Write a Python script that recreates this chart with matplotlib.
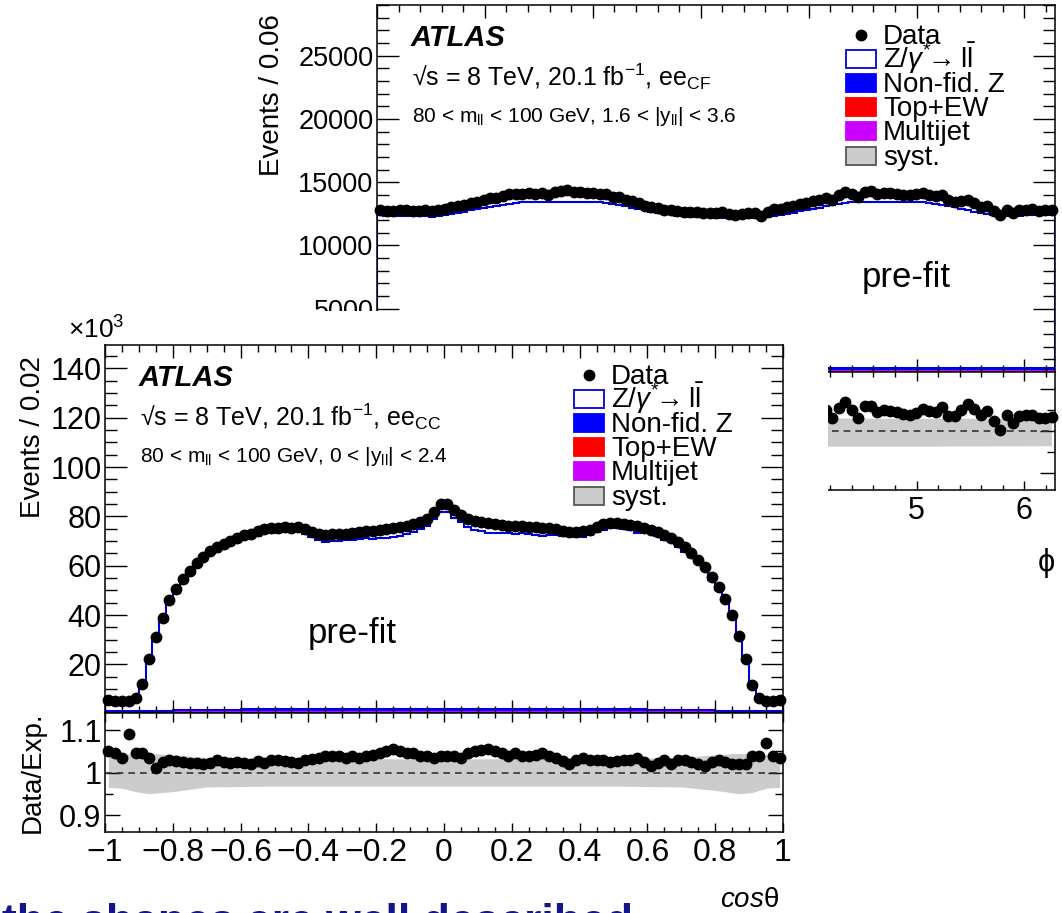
import numpy as np
import matplotlib
matplotlib.use("Agg")
import matplotlib.pyplot as plt
from matplotlib.patches import Rectangle
from matplotlib.ticker import MultipleLocator, FixedLocator, FuncFormatter

plt.rcParams['font.family'] = ['Liberation Sans', 'DejaVu Sans']
plt.rcParams['mathtext.fontset'] = 'custom'
plt.rcParams['mathtext.rm'] = 'Liberation Sans'
plt.rcParams['mathtext.it'] = 'Liberation Sans:italic'
plt.rcParams['mathtext.bf'] = 'Liberation Sans:bold'
plt.rcParams['axes.linewidth'] = 1.1

# ---------------- front plot: cos(theta), ee_CC, 100 bins of 0.02 (x10^3 events)
cos_data = [5.6, 5.0, 5.0, 5.3, 6.3, 12.0, 22.0, 31.0, 39.0, 46.0,
            50.5, 54.5, 58.0, 61.0, 63.5, 66.0, 67.5, 69.0, 70.0, 71.2,
            72.3, 73.0, 74.0, 74.8, 75.3, 75.5, 75.8, 75.5, 75.6, 75.0,
            73.8, 73.0, 72.6, 72.8, 73.0, 73.0, 73.4, 73.5, 73.9, 74.0,
            74.3, 74.8, 75.4, 75.8, 76.3, 77.0, 77.8, 79.0, 81.6, 85.0,
            85.0, 82.5, 80.4, 79.0, 78.3, 77.8, 77.2, 76.8, 76.6, 76.3,
            76.2, 76.0, 75.8, 75.6, 75.5, 75.2, 74.8, 74.0, 73.6, 73.8,
            74.0, 74.5, 75.8, 76.8, 77.2, 77.3, 77.0, 76.6, 76.0, 75.5,
            74.6, 73.6, 72.6, 71.2, 69.6, 67.6, 65.2, 62.3, 59.3, 55.5,
            51.5, 46.5, 40.0, 31.5, 22.0, 11.8, 6.5, 5.0, 5.0, 5.6]
cos_ratio = [1.050, 1.045, 1.035, 1.090, 1.045, 1.045, 1.035, 1.010, 1.025, 1.030,
             1.028, 1.025, 1.022, 1.022, 1.020, 1.022, 1.030, 1.025, 1.022, 1.025,
             1.022, 1.020, 1.028, 1.022, 1.030, 1.030, 1.028, 1.025, 1.022, 1.030,
             1.032, 1.035, 1.040, 1.038, 1.040, 1.035, 1.040, 1.035, 1.040, 1.042,
             1.045, 1.050, 1.055, 1.050, 1.045, 1.045, 1.040, 1.040, 1.035, 1.038,
             1.040, 1.040, 1.035, 1.045, 1.050, 1.052, 1.055, 1.050, 1.045, 1.040,
             1.045, 1.040, 1.040, 1.042, 1.045, 1.040, 1.035, 1.028, 1.020, 1.030,
             1.035, 1.030, 1.030, 1.030, 1.025, 1.028, 1.030, 1.030, 1.035, 1.025,
             1.015, 1.022, 1.030, 1.020, 1.030, 1.030, 1.025, 1.020, 1.015, 1.025,
             1.030, 1.025, 1.020, 1.020, 1.020, 1.040, 1.040, 1.070, 1.040, 1.035]
# small backgrounds, one value per group of 10 bins (x10^3)
cos_topew = [0.3, 0.4, 0.4, 0.4, 0.4, 0.4, 0.4, 0.4, 0.4, 0.3]
cos_multijet = [0.7, 0.9, 0.9, 0.9, 0.9, 0.9, 0.9, 0.9, 0.9, 0.7]
cos_nonfid = [0.2, 0.4, 0.5, 0.6, 0.6, 0.6, 0.6, 0.5, 0.4, 0.2]
cos_syst_x = [-0.99, -0.95, -0.91, -0.87, -0.80, -0.70, -0.50, 0.0, 0.50, 0.70, 0.80, 0.87, 0.91, 0.95, 0.99]
cos_syst_lo = [0.965, 0.963, 0.955, 0.950, 0.955, 0.966, 0.968, 0.968, 0.968, 0.966, 0.958, 0.950, 0.953, 0.963, 0.965]
cos_syst_hi = [1.040, 1.042, 1.045, 1.045, 1.042, 1.035, 1.033, 1.032, 1.033, 1.035, 1.042, 1.045, 1.045, 1.042, 1.040]

# ---------------- back plot: phi, ee_CF, 105 bins over [0, 2pi]
phi_pred = [12380, 12360, 12350, 12300, 12290, 12320, 12330, 12300, 12280,
            12350, 12420, 12500, 12590, 12680, 12770, 12860, 12950, 13040, 13130, 13220, 13300,
            13360, 13400, 13430, 13450, 13460, 13460, 13450, 13440, 13430, 13440, 13450, 13460, 13440, 13400, 13340,
            13260, 13170, 13080, 12980, 12870, 12770, 12670, 12580, 12510, 12450,
            12350, 12310, 12280, 12250, 12230, 12210, 12200, 12190, 12180, 12180, 12180, 12190, 12200, 12220, 12260,
            12350, 12420, 12500, 12590, 12690, 12790, 12890, 12990, 13090, 13190, 13280,
            13350, 13400, 13430, 13450, 13460, 13470, 13470, 13460, 13450, 13450, 13460, 13450, 13420, 13370, 13300,
            13210, 13110, 13000, 12890, 12780, 12680, 12580, 12490, 12420, 12380,
            12360, 12350, 12360, 12370, 12380, 12370, 12380, 12380]
phi_ratio = [1.035, 1.030, 1.032, 1.038, 1.040, 1.030, 1.035, 1.040, 1.035,
             1.035, 1.038, 1.040, 1.045, 1.042, 1.048, 1.045, 1.050, 1.052, 1.048, 1.050, 1.055,
             1.050, 1.048, 1.052, 1.045, 1.050, 1.038, 1.055, 1.062, 1.068, 1.060, 1.058, 1.050, 1.055, 1.048, 1.052,
             1.045, 1.050, 1.040, 1.038, 1.035, 1.030, 1.028, 1.030, 1.025, 1.028,
             1.030, 1.025, 1.028, 1.032, 1.025, 1.030, 1.028, 1.035, 1.022, 1.020, 1.028, 1.028, 1.030, 1.010, 1.032,
             1.040, 1.035, 1.042, 1.040, 1.045, 1.042, 1.048, 1.045, 1.050,
             1.030, 1.055, 1.068, 1.050, 1.030, 1.060, 1.060, 1.045, 1.050, 1.048, 1.045, 1.040,
             1.038, 1.043, 1.052, 1.048, 1.045, 1.057, 1.036, 1.036, 1.050, 1.064, 1.052, 1.038,
             1.048, 1.024, 1.002, 1.038, 1.019, 1.036, 1.038, 1.038, 1.030, 1.031, 1.033]
# small backgrounds, one value per group of 15 bins (events)
phi_topew = [40, 40, 40, 40, 40, 40, 40]
phi_multijet = [120, 120, 120, 120, 120, 120, 120]
phi_nonfid = [180, 180, 170, 170, 170, 180, 180]
phi_syst_x = [0.03, 1.0, 2.0, 3.0, 4.0, 5.0, 6.25]
phi_syst_lo = [0.965, 0.965, 0.964, 0.965, 0.964, 0.964, 0.965]
phi_syst_hi = [1.031, 1.031, 1.030, 1.031, 1.031, 1.030, 1.031]

Z_BLUE = '#0000dd'
NONFID = '#0000ff'
TOPEW = '#ff0000'
MULTIJET = '#cc00ff'
SYST = '#cccccc'

W, H = 1062, 913
fig = plt.figure(figsize=(W / 100, H / 100), dpi=100)


def fbox(l, t, r, b):
    return [l / W, 1 - b / H, (r - l) / W, (b - t) / H]


def fmt_g(v, pos):
    s = f'{round(v, 6):g}'
    if s == '-0':
        s = '0'
    return s.replace('-', '\u2212')


def style(ax, xmaj, xmin, ysize):
    ax.tick_params(which='both', direction='in', top=True, right=True, width=1.0)
    ax.tick_params(which='major', axis='y', length=16, pad=2.5, labelsize=ysize)
    ax.tick_params(which='minor', axis='y', length=8.5)
    ax.tick_params(which='major', axis='x', length=9.5, pad=4)
    ax.tick_params(which='minor', axis='x', length=5)
    ax.xaxis.set_major_locator(MultipleLocator(xmaj))
    ax.xaxis.set_minor_locator(MultipleLocator(xmin))


def ratio_ticks(axr):
    axr.tick_params(which='major', axis='y', length=11)
    axr.tick_params(which='minor', axis='y', length=5.5)
    axr.tick_params(which='major', axis='x', length=6.5)
    axr.tick_params(which='minor', axis='x', length=3.5)


def draw(ax, axr, edges, pred, data, ratio, bkgs, group, syst_x, syst_lo, syst_hi):
    centers = 0.5 * (edges[1:] + edges[:-1])
    base = np.zeros(len(pred))
    for vals, col in bkgs:
        top = base + np.repeat(vals, group)
        ax.stairs(top, edges, baseline=base, fill=True, color=col, lw=0)
        base = top
    ax.stairs(pred, edges, baseline=base, fill=True, facecolor='white', edgecolor=Z_BLUE, lw=1.5)
    ax.plot(centers, data, 'o', color='black', ms=7.5, zorder=5, clip_on=False)
    axr.fill_between(syst_x, syst_lo, syst_hi, color=SYST, lw=0, zorder=1)
    axr.axhline(1.0, color='#333333', ls=(0, (4, 3)), lw=1.2, zorder=2)
    axr.plot(centers, ratio, 'o', color='black', ms=7.5, zorder=5, clip_on=False)
    axr.set_xlim(edges[0], edges[-1])
    ax.set_xlim(edges[0], edges[-1])
    axr.set_ylim(0.86, 1.14)
    axr.yaxis.set_major_locator(FixedLocator([0.9, 1.0, 1.1]))
    axr.yaxis.set_minor_locator(MultipleLocator(0.05))
    axr.yaxis.set_major_formatter(FuncFormatter(fmt_g))
    axr.xaxis.set_major_formatter(FuncFormatter(fmt_g))
    ax.tick_params(labelbottom=False)


def header(ax, axh, cut, chan, zo):
    def p(dx, dy):
        return (dx / 678, 1 - dy / axh)
    ax.text(*p(34, 41), 'ATLAS', transform=ax.transAxes, fontsize=21, fontweight='bold',
            fontstyle='italic', va='baseline', zorder=zo)
    ax.text(*p(35, 81), '\u221as = 8 TeV, 20.1 fb$^{-1}$, ee$_{\\mathrm{' + chan + '}}$',
            transform=ax.transAxes, fontsize=18, va='baseline', zorder=zo)
    ax.text(*p(35, 117), '80 < m$_{\\mathrm{ll}}$ < 100 GeV, ' + cut,
            transform=ax.transAxes, fontsize=15, va='baseline', zorder=zo)
    rows = [30, 54, 78, 102, 126, 151]
    labels = ['Data', 'Z/$\\gamma^{*}\\!\\!\\rightarrow$l$\\bar{\\mathrm{l}}$', 'Non-fid. Z',
              'Top+EW', 'Multijet', 'syst.']
    boxes = [None, ('white', Z_BLUE), (NONFID, NONFID), (TOPEW, TOPEW),
             (MULTIJET, MULTIJET), (SYST, '#555555')]
    for dy, lab, bx in zip(rows, labels, boxes):
        if bx is None:
            ax.plot(*p(484, dy), 'o', color='black', ms=7.5, transform=ax.transAxes,
                    clip_on=False, zorder=zo)
        else:
            x0, y0 = p(469, dy + 9)
            ax.add_patch(Rectangle((x0, y0), 30 / 678, 18 / axh, transform=ax.transAxes,
                                   facecolor=bx[0], edgecolor=bx[1], lw=1.3, zorder=zo))
        ax.text(*p(506, dy + 9), lab, transform=ax.transAxes, fontsize=20,
                va='baseline', zorder=zo)


# ---- back plot (phi)
phi_edges = np.linspace(0, 2 * np.pi, len(phi_pred) + 1)
phi_data = np.array(phi_pred) * np.array(phi_ratio)
axb = fig.add_axes(fbox(377, 5, 1055, 372), zorder=1)
axbr = fig.add_axes(fbox(377, 372, 1055, 490), zorder=1)
draw(axb, axbr, phi_edges, np.array(phi_pred, float), phi_data, phi_ratio,
     [(phi_topew, TOPEW), (phi_multijet, MULTIJET), (phi_nonfid, NONFID)], 15,
     phi_syst_x, phi_syst_lo, phi_syst_hi)
axb.set_ylim(0, 29000)
axb.yaxis.set_major_locator(FixedLocator([5000, 10000, 15000, 20000, 25000]))
axb.yaxis.set_minor_locator(MultipleLocator(1000))
for a in (axb, axbr):
    style(a, 1, 0.2, 19.5)
ratio_ticks(axbr)
# left part of the back plot lies under the front canvas: only 5 and 6 show
axbr.xaxis.set_major_formatter(FuncFormatter(lambda v, p: f'{v:g}' if v > 4.5 else ''))
axbr.tick_params(axis='x', labelsize=22)
axbr.tick_params(axis='y', labelleft=False)
header(axb, 367, '1.6 < |y$_{\\mathrm{ll}}$| < 3.6', 'CF', 6)
axb.text(529 / 678, 1 - 282 / 367, 'pre-fit', transform=axb.transAxes, fontsize=25,
         ha='center', va='baseline')
fig.text(272 / W, 1 - 95 / H, 'Events / 0.06', rotation=90, ha='center', va='center',
         fontsize=20, zorder=1.5)
fig.text(1046 / W, 1 - 563 / H, '\u03d5', ha='center', va='center', fontsize=22, zorder=1.5)

# ---- white cover of the front canvas
fig.add_artist(Rectangle((0, 0), 828 / W, 1 - 311 / H, transform=fig.transFigure,
                         facecolor='white', edgecolor='none', zorder=2))

# ---- front plot (cos theta)
cos_edges = np.linspace(-1, 1, len(cos_data) + 1)
cos_pred = np.array(cos_data) / np.array(cos_ratio)
axf = fig.add_axes(fbox(105, 345, 783, 713), zorder=3)
axfr = fig.add_axes(fbox(105, 713, 783, 832), zorder=3)
draw(axf, axfr, cos_edges, cos_pred, cos_data, cos_ratio,
     [(cos_topew, TOPEW), (cos_multijet, MULTIJET), (cos_nonfid, NONFID)], 10,
     cos_syst_x, cos_syst_lo, cos_syst_hi)
axf.set_ylim(0.3, 149.5)
axf.yaxis.set_major_locator(FixedLocator([20, 40, 60, 80, 100, 120, 140]))
axf.yaxis.set_minor_locator(MultipleLocator(5))
axf.yaxis.set_major_formatter(FuncFormatter(fmt_g))
for a in (axf, axfr):
    style(a, 0.2, 0.05, 22)
ratio_ticks(axfr)
axfr.tick_params(axis='x', labelsize=23)
header(axf, 368, '0 < |y$_{\\mathrm{ll}}$| < 2.4', 'CC', 6)
axf.text(247 / 678, 1 - 298 / 368, 'pre-fit', transform=axf.transAxes, fontsize=25,
         ha='center', va='baseline', zorder=6)
fig.text(68 / W, 1 - 330 / H, '\u00d710$^{3}$', ha='left', va='center', fontsize=19, zorder=5)
fig.text(33 / W, 1 - 437 / H, 'Events / 0.02', rotation=90, ha='center', va='center',
         fontsize=20, zorder=5)
fig.text(33 / W, 1 - 772 / H, 'Data/Exp.', rotation=90, ha='center', va='center',
         fontsize=20, zorder=5)
fig.text(779 / W, 1 - 900 / H, '$\\mathit{cos}$\u03b8', ha='right', va='center',
         fontsize=20, zorder=5)

# cut-off caption at the bottom edge of the slide (only the tops of the letters show)
fig.text(2 / W, 1 - 935 / H, 'the shapes are well described', ha='left',
         va='baseline', fontsize=32, fontweight='bold', color='#14148c', zorder=6)

fig.savefig('out.png', dpi=100)
